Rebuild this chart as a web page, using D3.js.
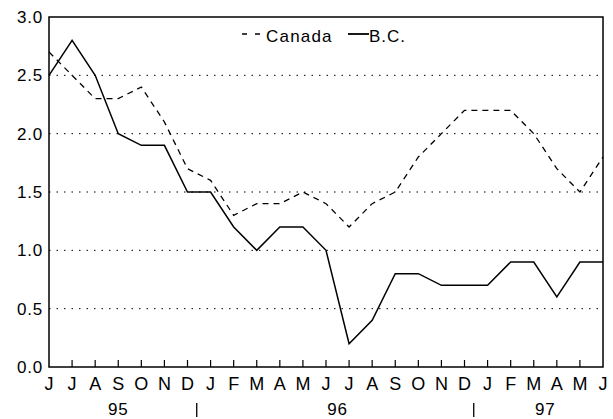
<!DOCTYPE html>
<html>
<head>
<meta charset="utf-8">
<script src="https://cdn.jsdelivr.net/npm/d3@7"></script>
<style>
  body { margin: 0; background: #fff; }
  text { font-family: "Liberation Sans", Arial, sans-serif; fill: #000; }
</style>
</head>
<body>
<script>
// months Jun 1995 .. Jun 1997
var months = ["J","J","A","S","O","N","D","J","F","M","A","M","J","J","A","S","O","N","D","J","F","M","A","M","J"];
var canada = [2.7,2.5,2.3,2.3,2.4,2.1,1.7,1.6,1.3,1.4,1.4,1.5,1.4,1.2,1.4,1.5,1.8,2.0,2.2,2.2,2.2,2.0,1.7,1.5,1.8];
var bc = [2.5,2.8,2.5,2.0,1.9,1.9,1.5,1.5,1.2,1.0,1.2,1.2,1.0,0.2,0.4,0.8,0.8,0.7,0.7,0.7,0.9,0.9,0.6,0.9,0.9];
var yTicks = [0, 0.5, 1.0, 1.5, 2.0, 2.5, 3.0];
var gridTicks = [0.5, 1.0, 1.5, 2.0, 2.5];
// year labels and separators, placed by month index
var years = [{ label: "95", at: 3 }, { label: "96", at: 12.5 }, { label: "97", at: 21.5 }];
var yearBreaks = [6.4, 18.4];

var margin = { top: 17, right: 10, bottom: 52, left: 49 },
  width = 613 - margin.left - margin.right,
  height = 419 - margin.top - margin.bottom;

var svg = d3.select("body").append("svg")
  .attr("width", 613)
  .attr("height", 419)
  .append("g")
  .attr("transform", "translate(" + margin.left + "," + margin.top + ")");

var x = d3.scaleLinear().domain([0, months.length - 1]).range([0, width]);
var y = d3.scaleLinear().domain([0, 3]).range([height, 0]);

// dotted grid
svg.selectAll(".grid")
  .data(gridTicks)
  .enter().append("line")
  .attr("x1", 0).attr("x2", width - 4)
  .attr("y1", function (d) { return y(d); })
  .attr("y2", function (d) { return y(d); })
  .style("stroke", "#000")
  .style("stroke-width", 1)
  .style("stroke-dasharray", "1.5,6");

// frame
svg.append("rect")
  .attr("width", width).attr("height", height)
  .style("fill", "none").style("stroke", "#000").style("stroke-width", 1.5);

// month ticks (inside, pointing up)
svg.selectAll(".tick")
  .data(d3.range(1, months.length - 1))
  .enter().append("line")
  .attr("x1", function (d) { return x(d); })
  .attr("x2", function (d) { return x(d); })
  .attr("y1", height).attr("y2", height - 7)
  .style("stroke", "#000").style("stroke-width", 1.2);

// y labels
svg.selectAll(".ylab")
  .data(yTicks)
  .enter().append("text")
  .attr("x", -6)
  .attr("y", function (d) { return y(d) + 6; })
  .attr("text-anchor", "end")
  .style("font-size", "17px")
  .style("letter-spacing", "0.8px")
  .text(function (d) { return d.toFixed(1); });

// month labels
svg.selectAll(".mlab")
  .data(months)
  .enter().append("text")
  .attr("x", function (d, i) { return x(i); })
  .attr("y", height + 23)
  .attr("text-anchor", "middle")
  .style("font-size", "18px")
  .text(function (d) { return d; });

// year labels
svg.selectAll(".ylabel")
  .data(years)
  .enter().append("text")
  .attr("x", function (d) { return x(d.at); })
  .attr("y", height + 48)
  .attr("text-anchor", "middle")
  .style("font-size", "17px")
  .style("letter-spacing", "0.8px")
  .text(function (d) { return d.label; });

svg.selectAll(".ybreak")
  .data(yearBreaks)
  .enter().append("line")
  .attr("x1", function (d) { return x(d); })
  .attr("x2", function (d) { return x(d); })
  .attr("y1", height + 36).attr("y2", height + 50)
  .style("stroke", "#000").style("stroke-width", 1.3);

var line = d3.line()
  .x(function (d, i) { return x(i); })
  .y(function (d) { return y(d); });

svg.append("path")
  .datum(canada)
  .attr("d", line)
  .style("fill", "none").style("stroke", "#000")
  .style("stroke-width", 1.3)
  .style("stroke-dasharray", "6,5");

svg.append("path")
  .datum(bc)
  .attr("d", line)
  .style("fill", "none").style("stroke", "#000")
  .style("stroke-width", 1.5);

// legend
var lg = svg.append("g").attr("transform", "translate(193,17)");
lg.append("line")
  .attr("x1", 0).attr("x2", 21).attr("y1", 0).attr("y2", 0)
  .style("stroke", "#000").style("stroke-width", 1.3)
  .style("stroke-dasharray", "5,8");
lg.append("text")
  .attr("x", 24).attr("y", 8)
  .style("font-size", "17px")
  .style("letter-spacing", "1.2px")
  .text("Canada");
lg.append("line")
  .attr("x1", 106).attr("x2", 127).attr("y1", 0).attr("y2", 0)
  .style("stroke", "#000").style("stroke-width", 1.8);
lg.append("text")
  .attr("x", 127).attr("y", 8)
  .style("font-size", "17px")
  .style("letter-spacing", "1px")
  .text("B.C.");
</script>
</body>
</html>
